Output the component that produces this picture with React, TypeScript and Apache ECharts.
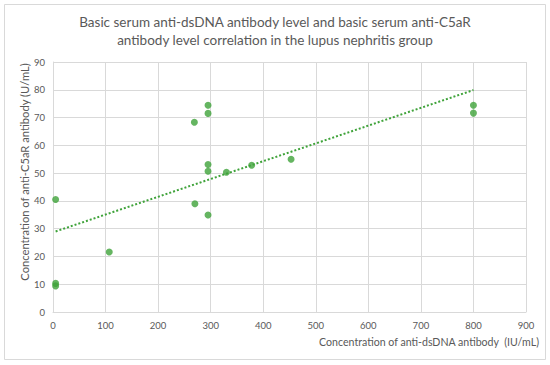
import React, { useEffect, useRef } from "react";
import * as echarts from "echarts";

const antiDsDNA = [5, 5, 5, 107, 269, 295, 295, 295, 295, 270, 295, 330, 378, 453, 800, 800];
const antiC5aR = [40.5, 10.3, 9.4, 21.6, 68.3, 74.4, 71.5, 53.1, 50.7, 39.0, 34.9, 50.3, 52.8, 55.0, 74.4, 71.6];
const trendX = [5, 800];
const trendY = [29.0, 79.9];

const titleLines = [
  "Basic serum anti-dsDNA antibody level and basic serum anti-C5aR",
  "antibody level correlation in the lupus nephritis group",
];
const xAxisTitle = "Concentration of anti-dsDNA antibody  (IU/mL)";
const yAxisTitle = "Concentration of anti-C5aR antibody (U/mL)";

const GREEN = "#3fa33a";
const TEXT = "#595959";
const GRID = "#d9d9d9";
const FONT = "Lato, 'Open Sans', sans-serif";

export default function App() {
  const ref = useRef<HTMLDivElement>(null);
  useEffect(() => {
    if (!ref.current) return;
    const chart = echarts.init(ref.current, undefined, { renderer: "svg" });
    chart.setOption({
      animation: false,
      backgroundColor: "#ffffff",
      textStyle: { fontFamily: FONT },
      grid: { left: 53, right: 24, top: 62, bottom: 53, containLabel: false },
      xAxis: {
        type: "value",
        min: 0,
        max: 900,
        interval: 100,
        axisLine: { show: true, lineStyle: { color: GRID, width: 1 } },
        axisTick: { show: false },
        splitLine: { show: true, lineStyle: { color: GRID, width: 1 } },
        axisLabel: { color: TEXT, fontSize: 9.5, margin: 8, fontFamily: FONT },
      },
      yAxis: {
        type: "value",
        min: 0,
        max: 90,
        interval: 10,
        name: yAxisTitle,
        nameLocation: "middle",
        nameRotate: 90,
        nameGap: 23,
        nameMoveOverlap: false,
        nameTextStyle: {
          color: TEXT,
          fontSize: 11.2,
          fontFamily: FONT,
          padding: [0, 0, 0, 30],
        },
        axisLine: { show: true, lineStyle: { color: GRID, width: 1 } },
        axisTick: { show: false },
        splitLine: { show: true, lineStyle: { color: GRID, width: 1 } },
        axisLabel: { color: TEXT, fontSize: 9.5, margin: 8, fontFamily: FONT },
      },
      graphic: [
        {
          type: "rect",
          shape: { x: 4.5, y: 4.5, width: 541, height: 355 },
          style: { fill: "none", stroke: "#d9d9d9", lineWidth: 1 },
          silent: true,
          z: -1,
        },
        {
          type: "text",
          x: 275,
          y: 31,
          style: {
            text: titleLines.join("\n"),
            fill: TEXT,
            font: `13.5px ${FONT}`,
            align: "center",
            verticalAlign: "middle",
            lineHeight: 18,
          },
        },
        {
          type: "text",
          x: 539,
          y: 342,
          style: {
            text: xAxisTitle,
            fill: TEXT,
            font: `10.6px ${FONT}`,
            align: "right",
            verticalAlign: "middle",
          },
        },
      ],
      series: [
        {
          type: "line",
          data: trendX.map((x, i) => [x, trendY[i]]),
          showSymbol: false,
          symbol: "none",
          lineStyle: { color: GREEN, width: 2, type: [2, 2] },
          z: 1,
        },
        {
          type: "scatter",
          data: antiDsDNA.map((x, i) => [x, antiC5aR[i]]),
          symbol: "circle",
          symbolSize: 7,
          itemStyle: { color: GREEN },
          z: 2,
        },
      ],
    });
    return () => chart.dispose();
  }, []);
  return (
    <div
      ref={ref}
      style={{ position: "fixed", left: 0, top: 0, width: 550, height: 365 }}
    />
  );
}
